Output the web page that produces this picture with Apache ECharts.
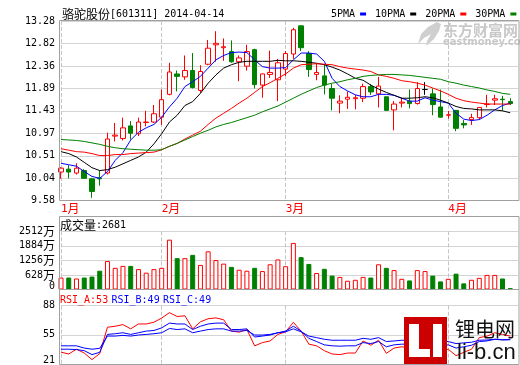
<!DOCTYPE html>
<html><head><meta charset="utf-8">
<script src="https://cdn.jsdelivr.net/npm/echarts@6/dist/echarts.min.js"></script>
<style>html,body{margin:0;padding:0;background:#fff}#c{width:520px;height:365px}</style>
</head><body><div id="c"></div>
<script>
const dates = ['2014-01-14','2014-01-15','2014-01-16','2014-01-17','2014-01-20','2014-01-21','2014-01-22','2014-01-23','2014-01-24','2014-01-27','2014-01-28','2014-01-29','2014-01-30',
'2014-02-07','2014-02-10','2014-02-11','2014-02-12','2014-02-13','2014-02-14','2014-02-17','2014-02-18','2014-02-19','2014-02-20','2014-02-21','2014-02-24','2014-02-25','2014-02-26','2014-02-27','2014-02-28',
'2014-03-03','2014-03-04','2014-03-05','2014-03-06','2014-03-07','2014-03-10','2014-03-11','2014-03-12','2014-03-13','2014-03-14','2014-03-17','2014-03-18','2014-03-19','2014-03-20','2014-03-21','2014-03-24','2014-03-25','2014-03-26','2014-03-27','2014-03-28','2014-03-31',
'2014-04-01','2014-04-02','2014-04-03','2014-04-04','2014-04-08','2014-04-09','2014-04-10','2014-04-11','2014-04-14'];
const opens  = [10.17,10.23,10.15,10.20,10.03,10.05,10.15,10.91,10.86,11.12,10.96,11.19,11.20,11.30,11.77,12.19,12.13,12.26,11.85,12.39,12.79,12.73,12.65,12.44,12.35,12.69,11.96,12.18,12.07,12.29,12.60,13.18,12.61,12.18,12.15,11.89,11.59,11.67,11.68,11.69,11.93,11.78,11.72,11.45,11.59,11.63,11.58,11.87,11.78,11.51,11.34,11.44,11.17,11.25,11.29,11.56,11.65,11.67,11.62];
const closes = [10.25,10.17,10.25,10.04,9.77,10.03,10.85,10.93,11.08,10.97,11.20,11.20,11.37,11.66,12.23,12.14,12.26,11.91,12.24,12.72,12.82,12.75,12.44,12.52,12.65,11.97,12.19,12.22,12.42,12.61,13.10,12.73,12.28,12.22,11.96,11.69,11.63,11.71,11.70,11.93,11.82,11.94,11.44,11.57,11.61,11.58,11.89,11.87,11.56,11.30,11.35,11.07,11.14,11.29,11.50,11.57,11.68,11.66,11.58];
const lows   = [10.03,10.04,10.12,10.04,9.64,9.89,10.12,10.80,10.82,10.84,10.91,11.11,11.18,11.14,11.75,11.83,12.07,11.89,11.80,12.37,12.44,12.46,12.42,12.04,12.26,11.89,11.70,12.11,11.63,12.15,12.50,12.66,12.13,12.06,11.77,11.44,11.38,11.47,11.46,11.61,11.76,11.50,11.44,11.03,11.50,11.48,11.56,11.76,11.34,11.29,11.27,11.01,11.07,11.14,11.25,11.50,11.55,11.43,11.55];
const highs  = [10.27,10.31,10.35,10.23,10.05,10.20,10.98,11.18,11.29,11.22,11.29,11.43,11.55,11.87,12.42,12.26,12.57,12.62,12.37,12.89,13.07,12.92,12.88,12.57,12.79,12.71,12.20,12.67,12.50,12.66,13.14,13.19,12.66,12.41,12.40,11.98,11.75,11.83,11.76,11.99,11.98,12.13,11.72,11.63,11.70,11.87,12.02,12.02,11.89,11.87,11.43,11.44,11.24,11.37,11.51,11.76,11.76,11.74,11.69];
const ma5  = [10.35,10.32,10.29,10.18,10.08,10.04,10.18,10.41,10.57,10.83,10.99,11.08,11.15,11.30,11.51,11.69,11.93,12.03,12.14,12.31,12.48,12.57,12.63,12.64,12.63,12.48,12.34,12.31,12.31,12.32,12.48,12.62,12.62,12.60,12.45,12.10,11.93,11.84,11.76,11.72,11.72,11.77,11.77,11.75,11.69,11.63,11.63,11.70,11.65,11.62,11.59,11.38,11.26,11.23,11.25,11.34,11.45,11.54,11.59];
const ma10 = [10.59,10.55,10.48,10.37,10.26,10.20,10.22,10.27,10.34,10.41,10.48,10.58,10.75,10.96,11.20,11.34,11.54,11.62,11.79,12.00,12.17,12.31,12.38,12.43,12.45,12.45,12.45,12.45,12.47,12.46,12.46,12.45,12.43,12.41,12.38,12.33,12.27,12.19,12.10,12.06,11.96,11.88,11.81,11.75,11.69,11.69,11.70,11.72,11.70,11.65,11.59,11.52,11.48,11.47,11.45,11.45,11.45,11.43,11.39];
const ma20 = [10.65,10.62,10.59,10.58,10.55,10.51,10.51,10.53,10.53,10.55,10.56,10.57,10.58,10.63,10.70,10.76,10.85,10.93,11.01,11.15,11.28,11.38,11.48,11.59,11.69,11.81,11.93,12.01,12.10,12.19,12.31,12.38,12.39,12.40,12.39,12.38,12.34,12.31,12.29,12.27,12.24,12.17,12.14,12.10,12.05,12.03,12.00,11.96,11.90,11.84,11.77,11.69,11.64,11.61,11.59,11.57,11.57,11.57,11.57];
const ma30 = [10.84,10.83,10.82,10.80,10.77,10.74,10.70,10.67,10.65,10.64,10.63,10.62,10.62,10.63,10.70,10.76,10.83,10.90,10.97,11.03,11.10,11.15,11.19,11.24,11.29,11.34,11.41,11.47,11.53,11.61,11.69,11.77,11.84,11.91,11.96,12.00,12.03,12.07,12.10,12.14,12.16,12.17,12.18,12.18,12.17,12.16,12.14,12.12,12.10,12.08,12.03,12.00,11.96,11.93,11.90,11.86,11.83,11.79,11.77];
const volumes = [516,516,475,516,558,810,1228,935,1019,1019,880,726,880,935,2150,1354,1354,1494,1061,1647,1270,1117,977,852,810,935,796,1089,1298,1005,2010,1396,1103,712,893,600,544,377,419,544,516,1089,935,838,461,391,838,796,600,349,461,684,265,419,503,628,628,475,56];
const rsiA = [34.6,32.5,38,33.6,26,33,63.3,64.4,66.3,61.4,67,67,69,73.8,80,75.6,76.4,61.4,69.5,73,74,71.8,58.8,57.6,60.6,41.9,45.6,47.5,55,58,68.9,58.8,43.8,41.9,36.3,32.5,31.8,33.6,33.6,47.5,42.6,48.3,33.3,39.3,40.8,39.3,53,52,43.8,36.3,38,30.6,34.4,38,51.3,53,56.9,55,53];
const rsiB = [38,38,37.6,36.3,31.8,34.4,55,55.8,56.9,55,56.9,58.8,59.5,62.5,68,67,67,60.6,64.4,67,68,68,60.6,60.6,61.4,52,53.1,54.3,56.9,58.8,64.4,58.8,50.5,46.8,43,41.9,41.5,41.9,41.9,45.6,44.5,46.8,40.8,43,43.8,43.8,48.3,48.3,45.6,41.9,43,39.3,40.8,42.6,46.8,47.5,49.4,48.6,49];
const rsiC = [41.9,41.9,41.9,39.3,38,39,53.1,53.1,53.9,53.1,54.3,55,55.8,56.9,61.8,60.6,61.4,56.9,58.8,60.6,61.4,61.4,58.8,58.8,59.5,54.3,54.3,55,56.9,58,61.4,58,53.1,51.3,49.4,48.3,48.3,48.3,48.3,50.5,49.4,51.3,46.8,47.5,48.3,48.3,50.5,50.5,49,46.8,46.8,44.5,45.3,46,48.3,48.6,49.4,49,49];
const priceTicks = ['9.58','10.04','10.51','10.97','11.43','11.89','12.36','12.82','13.28'];
const volTicks = [0,628,1256,1884,2512];
const rsiTicks = [21,55,88];
const maNames = ['5PMA','10PMA','20PMA','30PMA'];
const titleText = '骆驼股份[601311] 2014-04-14';
const volText = '成交量:2681';
const rsiText = ['RSI_A:53','RSI_B:49','RSI_C:49'];

const MONO = 'DejaVu Sans Mono';
const CJK = 'Noto Sans CJK SC';
const RED = '#ff0000', GREEN = '#008000', BLUE = '#0000ff';
const axisRich = { a: {fontFamily: MONO, fontSize: 10, color: '#000'}, c: {fontFamily: CJK, fontSize: 12, color: '#000'} };
const gRich = { a: {fontFamily: MONO, fontSize: 10, fill: '#000'}, c: {fontFamily: CJK, fontSize: 12, fill: '#000'} };
function mix(s, pre) {
  pre = pre || '';
  let out = '', cur = '', t0 = null;
  for (const ch of s) {
    const t = ch.charCodeAt(0) > 255 ? 'c' : 'a';
    if (t !== t0 && cur) { out += '{' + pre + t0 + '|' + cur + '}'; cur = ''; }
    t0 = t; cur += ch;
  }
  if (cur) out += '{' + pre + t0 + '|' + cur + '}';
  return out;
}
const N = dates.length;
const isMonthStart = i => i < N && (i === 0 || dates[i].slice(5, 7) !== dates[i - 1].slice(5, 7));
const pMin = parseFloat(priceTicks[0]), pMax = parseFloat(priceTicks[priceTicks.length - 1]);
const pInt = (pMax - pMin) / (priceTicks.length - 1);
const rInt = (rsiTicks[2] - rsiTicks[0]) / (rsiTicks.length - 1);

const grids = [
  {left: 61, right: 2, top: 21, height: 179.7, outerBoundsMode: 'none'},
  {left: 61, right: 2, top: 231.3, height: 58.2, outerBoundsMode: 'none'},
  {left: 61, right: 2, top: 305.7, height: 58.3, outerBoundsMode: 'none'}
];
const vSplit = {show: true, interval: (i) => isMonthStart(i), lineStyle: {color: '#c4c4c4', type: [4, 2], width: 1}};
const xAxes = [0, 1, 2].map(g => ({
  type: 'category', gridIndex: g, data: dates, boundaryGap: false, max: N,
  axisLine: {show: false}, axisTick: {show: false},
  axisLabel: g === 0 ? {
    show: true, interval: (i) => isMonthStart(i), margin: 2, align: 'left',
    formatter: (v) => mix(parseInt(v.slice(5, 7), 10) + '月', 'm'),
    rich: {ma: {fontFamily: MONO, fontSize: 11, color: RED}, mc: {fontFamily: CJK, fontSize: 12, color: RED}}
  } : {show: false},
  splitLine: vSplit
}));
const hSplit = {show: true, lineStyle: {color: '#d4d4d4', width: 1}};
const yAxes = [
  {type: 'value', gridIndex: 0, min: pMin, max: pMax, interval: pInt, scale: true,
   axisLine: {show: false}, axisTick: {show: false}, splitLine: hSplit,
   axisLabel: {margin: 6, formatter: (v) => '{a|' + priceTicks[Math.round((v - pMin) / pInt)] + '}', rich: axisRich}},
  {type: 'value', gridIndex: 1, min: volTicks[0], max: volTicks[volTicks.length - 1], interval: volTicks[1] - volTicks[0],
   axisLine: {show: false}, axisTick: {show: false}, splitLine: hSplit,
   axisLabel: {margin: 6, formatter: (v) => v === 0 ? '{lo|0}' : mix(v + '万'),
     rich: Object.assign({lo: {fontFamily: MONO, fontSize: 10, color: '#000', padding: [0, 0, 7, 0]}}, axisRich)}},
  {type: 'value', gridIndex: 2, min: rsiTicks[0], max: rsiTicks[2], interval: rInt,
   axisLine: {show: false}, axisTick: {show: false}, splitLine: hSplit,
   axisLabel: {margin: 6, formatter: (v) => {
      const lab = rsiTicks[Math.round((v - rsiTicks[0]) / rInt)];
      return v === rsiTicks[0] ? '{lo|' + lab + '}' : '{a|' + lab + '}';
    }, rich: Object.assign({lo: {fontFamily: MONO, fontSize: 10, color: '#000', padding: [0, 0, 7, 0]}}, axisRich)}}
];
const lineS = (name, data, color, xi, z) => ({
  name, type: 'line', data, xAxisIndex: xi, yAxisIndex: xi, symbol: 'none', smooth: false, silent: true,
  lineStyle: {color, width: 1}, itemStyle: {color}, z: z || 3, clip: false
});
const volData = volumes.map((v, i) => {
  const up = closes[i] >= opens[i];
  return {value: v, itemStyle: up ? {color: '#ffffff', borderColor: RED, borderWidth: 1} : {color: GREEN, borderColor: GREEN, borderWidth: 1}};
});
const option = {
  animation: false,
  backgroundColor: '#ffffff',
  grid: grids,
  xAxis: xAxes,
  yAxis: yAxes,
  legend: {
    data: maNames, left: 331, top: 9, width: 240, orient: 'horizontal', align: 'right', icon: 'rect',
    itemWidth: 6, itemHeight: 3, itemGap: 9, selectedMode: false, padding: 0,
    textStyle: {fontFamily: MONO, fontSize: 10, color: '#000', padding: [0, 0, 0, 0]}
  },
  series: [
    {type: 'candlestick', xAxisIndex: 0, yAxisIndex: 0, barWidth: 5, clip: false, silent: true,
     data: dates.map((d, i) => [opens[i], closes[i], lows[i], highs[i]]),
     itemStyle: {color: '#ffffff', color0: GREEN, borderColor: RED, borderColor0: GREEN, borderColorDoji: '#000000', borderWidth: 1}, z: 2},
    lineS(maNames[0], ma5, BLUE, 0),
    lineS(maNames[1], ma10, '#000000', 0),
    lineS(maNames[2], ma20, RED, 0),
    lineS(maNames[3], ma30, GREEN, 0),
    {type: 'bar', xAxisIndex: 1, yAxisIndex: 1, barWidth: 5, clip: false, silent: true, data: volData},
    lineS('RSI_A', rsiA, RED, 2),
    lineS('RSI_B', rsiB, BLUE, 2),
    lineS('RSI_C', rsiC, BLUE, 2)
  ],
  graphic: [
    {type: 'rect', silent: true, z: 10, shape: {x: 59.5, y: 20.5, width: 459.5, height: 180}, style: {fill: null, stroke: '#a0a0a0', lineWidth: 1}},
    {type: 'rect', silent: true, z: 10, shape: {x: 59.5, y: 216.5, width: 459.5, height: 148}, style: {fill: null, stroke: '#a0a0a0', lineWidth: 1}},
    {type: 'line', silent: true, z: 10, shape: {x1: 59.5, y1: 289.5, x2: 519, y2: 289.5}, style: {stroke: '#a0a0a0', lineWidth: 1}},
    {type: 'text', silent: true, z: 10, style: {x: 62, y: 14.5, text: mix(titleText), rich: gRich, verticalAlign: 'middle'}},
    {type: 'text', silent: true, z: 10, style: {x: 60, y: 225, text: mix(volText), rich: gRich, verticalAlign: 'middle'}},
    {type: 'text', silent: true, z: 10, style: {x: 60, y: 300, verticalAlign: 'middle',
      text: '{r|' + rsiText[0] + '} {b|' + rsiText[1] + '} {b|' + rsiText[2] + '}',
      rich: {r: {fontFamily: MONO, fontSize: 10, fill: RED}, b: {fontFamily: MONO, fontSize: 10, fill: BLUE}}}},
    // watermark
    {type: 'polygon', silent: true, z: 1, shape: {points: [[437,22],[428,27],[421,34],[418,44],[424,38],[431,34],[427,41],[426,46],[434,39],[439,31],[441,24]]}, style: {fill: '#cfcfcf'}},
    {type: 'text', silent: true, z: 1, style: {x: 443, y: 30, text: '东方财富网', font: 'bold 15px "Noto Sans CJK SC"', fill: '#c8c8c8', verticalAlign: 'middle'}},
    {type: 'text', silent: true, z: 1, style: {x: 443, y: 42.5, text: 'eastmoney.com', font: 'bold 10px "DejaVu Sans"', fill: '#c8c8c8', verticalAlign: 'middle'}},
    // lithium logo
    {type: 'rect', silent: true, z: 20, shape: {x: 404, y: 317, width: 43, height: 47}, style: {fill: '#cc0000'}},
    {type: 'rect', silent: true, z: 21, shape: {x: 409, y: 324, width: 10, height: 33}, style: {fill: '#ffffff'}},
    {type: 'rect', silent: true, z: 21, shape: {x: 409, y: 349, width: 21, height: 8}, style: {fill: '#ffffff'}},
    {type: 'rect', silent: true, z: 21, shape: {x: 433, y: 324, width: 9, height: 33}, style: {fill: '#ffffff'}},
    {type: 'text', silent: true, z: 21, style: {x: 455, y: 329, text: '锂电网', font: '20px "Noto Sans CJK SC"', fill: '#111', verticalAlign: 'middle'}},
    {type: 'text', silent: true, z: 21, style: {x: 457, y: 352.5, text: 'li-b.cn', font: '22px "Liberation Sans"', fill: '#111', verticalAlign: 'middle'}}
  ]
};
const chart = echarts.init(document.getElementById('c'), null, {renderer: 'canvas'});
chart.setOption(option);
</script></body></html>
